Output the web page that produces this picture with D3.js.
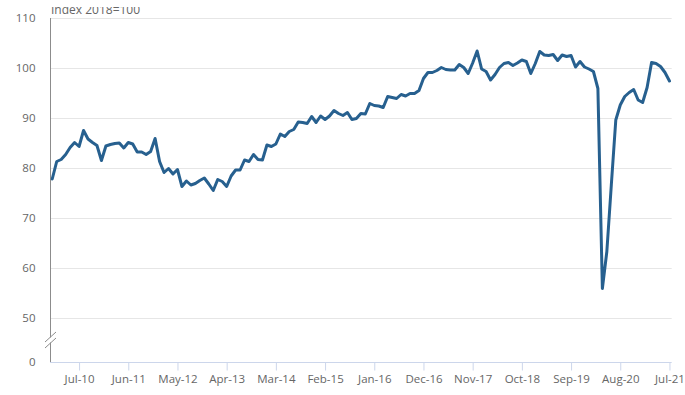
<!DOCTYPE html>
<html>
<head>
<meta charset="utf-8">
<script src="https://cdn.jsdelivr.net/npm/d3@7"></script>
<style>
  body { margin:0; background:#fff; }
  svg text { font-family:"Open Sans", sans-serif; }
</style>
</head>
<body>
<svg id="chart"></svg>
<script>
// monthly index, Jan 2010 - Jul 2021
var firstMonth = "2010-01";
var lastMonth = "2021-07";

var indexValues = [
  77.8, 81.3, 81.7, 82.7, 84.1, 85.1, 84.3, 87.5, 85.8, 85.1,
  84.5, 81.5, 84.4, 84.7, 84.9, 85.0, 84.0, 85.1, 84.8, 83.2,
  83.2, 82.7, 83.3, 85.9, 81.3, 79.1, 79.9, 78.8, 79.7, 76.3,
  77.4, 76.6, 76.9, 77.5, 78.0, 76.8, 75.5, 77.7, 77.3, 76.3,
  78.4, 79.6, 79.6, 81.6, 81.3, 82.7, 81.7, 81.6, 84.6, 84.3,
  84.8, 86.8, 86.3, 87.3, 87.7, 89.2, 89.1, 88.9, 90.3, 89.1,
  90.4, 89.7, 90.4, 91.5, 90.9, 90.5, 91.1, 89.7, 89.9, 90.9,
  90.8, 92.9, 92.5, 92.4, 92.1, 94.3, 94.1, 93.9, 94.7, 94.4,
  94.9, 94.9, 95.5, 97.9, 99.1, 99.1, 99.5, 100.1, 99.7, 99.6,
  99.6, 100.7, 100.1, 98.9, 101.0, 103.4, 99.8, 99.3, 97.6, 98.7,
  100.1, 100.9, 101.1, 100.5, 101.0, 101.6, 101.3, 98.9, 100.9, 103.3,
  102.6, 102.5, 102.7, 101.5, 102.6, 102.3, 102.5, 100.2, 101.3, 100.2,
  99.8, 99.3, 95.9, 55.9, 63.3, 76.6, 89.6, 92.6, 94.3, 95.1,
  95.7, 93.6, 93.1, 96.1, 101.1, 100.9, 100.3, 99.1, 97.4
];

var xTickLabels = ["Jul-10","Jun-11","May-12","Apr-13","Mar-14","Feb-15","Jan-16",
                   "Dec-16","Nov-17","Oct-18","Sep-19","Aug-20","Jul-21"];
var yTicks = [0, 50, 60, 70, 80, 90, 100, 110];
var yTitle = "Index 2018=100";

var screen = {width:685, height:395};
var plot = {left:50, right:671.7, top:18, bottom:362};

var svg = d3.select("#chart")
    .attr("width", screen.width)
    .attr("height", screen.height);

var parseKey = d3.timeParse("%Y-%m");
var keyFormat = d3.timeFormat("%Y-%m");
var parseLabel = d3.timeParse("%b-%y");

var months = d3.timeMonth.range(parseKey(firstMonth), d3.timeMonth.offset(parseKey(lastMonth), 1))
    .map(keyFormat);

var xScale = d3.scalePoint()
    .domain(months)
    .range([plot.left, plot.right])
    .padding(0.5);

// broken axis: 0 squeezed under 50
var yScale = d3.scaleLinear()
    .domain([0, 50, 110])
    .range([plot.bottom, 318, plot.top]);

// gridlines
svg.append("g")
    .selectAll("line")
    .data(yTicks.filter(function(d){ return d > 0; }))
    .enter()
    .append("line")
    .attr("x1", plot.left)
    .attr("x2", plot.right)
    .attr("y1", function(d){ return yScale(d) + 0.5; })
    .attr("y2", function(d){ return yScale(d) + 0.5; })
    .style("stroke", "#e6e6e6")
    .style("stroke-width", 1);

// x axis
var tickKeys = xTickLabels.map(function(l){ return keyFormat(parseLabel(l)); });
var xAxis = d3.axisBottom(xScale)
    .tickValues(tickKeys)
    .tickFormat(function(d, i){ return xTickLabels[i]; })
    .tickSize(8)
    .tickPadding(4);

var gx = svg.append("g")
    .attr("transform", "translate(0," + (plot.bottom + 0.5) + ")")
    .call(xAxis);
gx.select(".domain").attr("d", "M" + plot.left + ",0H" + plot.right).style("stroke", "#ccd6eb");
gx.selectAll(".tick line").style("stroke", "#ccd6eb");
gx.selectAll("text").style("fill", "#666").style("font-size", "11.5px");

// y axis
var yAxis = d3.axisLeft(yScale)
    .tickValues(yTicks)
    .tickSize(0)
    .tickPadding(15);

var gy = svg.append("g")
    .attr("transform", "translate(" + (plot.left + 0.5) + ",0)")
    .call(yAxis);
gy.select(".domain").attr("d", "M0," + plot.top + "V" + plot.bottom).style("stroke", "#8c8c8c");
gy.selectAll("text").style("fill", "#666").style("font-size", "11.5px");

// axis break marks
var brk = svg.append("g");
brk.append("polygon")
    .attr("points", "45,347 56,338 56,333 45,342")
    .style("fill", "#fff");
brk.append("line")
    .attr("x1", 45).attr("y1", 342).attr("x2", 56).attr("y2", 332)
    .style("stroke", "#8c8c8c");
brk.append("line")
    .attr("x1", 45).attr("y1", 348).attr("x2", 56).attr("y2", 338)
    .style("stroke", "#8c8c8c");

// the series
var line = d3.line()
    .x(function(d, i){ return xScale(months[i]); })
    .y(function(d){ return yScale(d); });

svg.append("path")
    .datum(indexValues)
    .attr("d", line)
    .style("fill", "none")
    .style("stroke", "#27608f")
    .style("stroke-width", 3)
    .style("stroke-linejoin", "round")
    .style("stroke-linecap", "round");

// axis title, clipped at top like the original
svg.append("clipPath")
    .attr("id", "titleClip")
    .append("rect")
    .attr("x", 0).attr("y", 7).attr("width", 300).attr("height", 20);

svg.append("text")
    .attr("x", 51)
    .attr("y", 14)
    .attr("clip-path", "url(#titleClip)")
    .style("fill", "#666")
    .style("font-size", "12px")
    .text(yTitle);
</script>
</body>
</html>
